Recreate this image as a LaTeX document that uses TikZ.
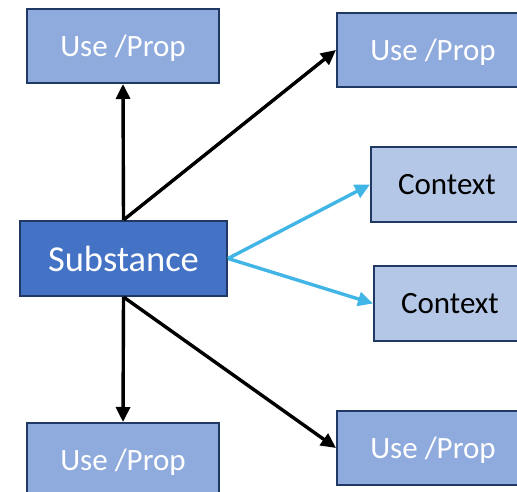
\documentclass[tikz,border=0pt]{standalone}
\usepackage{fontspec}
\setmainfont{Carlito}
\usetikzlibrary{arrows.meta}
\definecolor{edgenavy}{RGB}{32,56,100}
\definecolor{usefill}{RGB}{143,170,220}
\definecolor{subfill}{RGB}{68,114,196}
\definecolor{ctxfill}{RGB}{180,199,231}
\definecolor{ctxline}{RGB}{65,182,230}
\tikzset{
  boxbase/.style={draw=edgenavy, line width=2pt, inner sep=0pt, align=center},
  usebox/.style={boxbase, fill=usefill, text=white, minimum width=192pt, minimum height=74pt,
    text depth=0pt, font=\fontsize{31}{37}\selectfont},
  subbox/.style={boxbase, fill=subfill, text=white, minimum width=207pt, minimum height=75pt,
    font=\fontsize{36.5}{43}\selectfont},
  ctxbox/.style={boxbase, fill=ctxfill, text=black, minimum width=152pt, minimum height=75pt,
    font=\fontsize{31}{37}\selectfont},
  blackarrow/.style={line width=3.4pt, -{Triangle[length=15pt,width=14pt]}},
  cyanarrow/.style={line width=3.4pt, draw=ctxline, -{Triangle[length=15pt,width=14pt]}, color=ctxline},
}
\begin{document}
\begin{tikzpicture}[x=1pt,y=-1pt]
  \useasboundingbox (0,0) rectangle (517,492);
  \clip (0,0) rectangle (517,492);
  % central substance node
  \node[subbox] (sub) at (123.5,258.5) {Substance};
  % uses and properties
  \node[usebox] (tl) at (123,46) {Use /Prop};
  \node[usebox] (tr) at (433,50) {Use /Prop};
  \node[usebox] (bl) at (123,460) {Use /Prop};
  \node[usebox] (br) at (433,448) {Use /Prop};
  % contexts
  \node[ctxbox] (c1) at (447,184.5) {Context};
  \node[ctxbox] (c2) at (450,303.5) {Context};
  % connectors
  \draw[blackarrow] (sub.north) -- (tl.south);
  \draw[blackarrow] (sub.north) -- (tr.west);
  \draw[blackarrow] (sub.south) -- (bl.north);
  \draw[blackarrow] (sub.south) -- (br.west);
  \draw[cyanarrow] (sub.east) -- (c1.west);
  \draw[cyanarrow] (sub.east) -- (c2.west);
\end{tikzpicture}
\end{document}
